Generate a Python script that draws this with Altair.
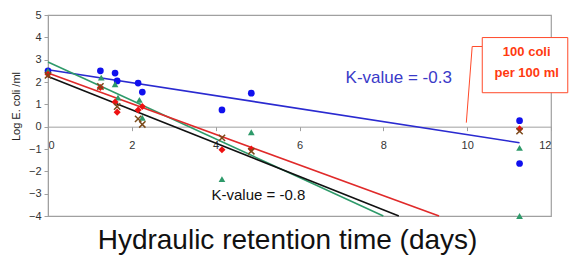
import altair as alt
import pandas as pd

# ---- data ----
blue_x = [0, 1.25, 1.6, 1.65, 2.15, 2.25, 4.15, 4.85, 11.25, 11.25]
blue_y = [2.5, 2.5, 2.4, 2.05, 1.95, 1.55, 0.75, 1.5, 0.27, -1.65]

red_x = [0, 1.25, 1.6, 1.65, 2.15, 2.25, 4.15, 4.85, 11.25]
red_y = [2.35, 1.75, 1.1, 0.65, 0.75, 0.9, -1.03, -1.0, -0.1]

green_x = [0, 1.27, 1.6, 1.67, 2.18, 2.25, 4.15, 4.85, 11.25, 11.25]
green_y = [2.5, 2.2, 1.9, 1.3, 1.2, 0.4, -2.35, -0.25, -0.95, -4.0]

cross_x = [0, 1.25, 1.65, 2.15, 2.25, 4.15, 4.85, 11.25]
cross_y = [2.3, 1.8, 0.9, 0.35, 0.1, -0.5, -1.1, -0.2]

# regression lines (start / end)
line_series = ["blue", "blue", "green", "green", "black", "black", "red", "red"]
line_x = [0, 11.25, 0, 8.0, 0, 8.37, 0, 9.33]
line_y = [2.55, -0.72, 2.9, -4.0, 2.25, -4.0, 2.4, -4.0]

x_ticks = [0, 2, 4, 6, 8, 10, 12]
y_ticks = [-4, -3, -2, -1, 0, 1, 2, 3, 4, 5]

FONT = "Liberation Sans"
GRAY = "#a0a0a0"

x_scale = alt.Scale(domain=[0, 12], nice=False, zero=False)
y_scale = alt.Scale(domain=[-4, 5], nice=False, zero=False)

x_axis = alt.Axis(values=x_ticks, title=None, grid=False, offset=-89.33,
                  domainColor=GRAY, tickColor=GRAY, tickSize=4,
                  labelFontSize=11, labelFont=FONT, labelColor="#333333",
                  labelPadding=9)
y_axis = alt.Axis(values=y_ticks, title="Log E. coli /ml", grid=False,
                  domainColor=GRAY, tickColor=GRAY, tickSize=4,
                  labelFontSize=11, labelFont=FONT, labelColor="#333333",
                  labelPadding=3, titleFont=FONT, titleFontSize=11,
                  titleFontWeight="normal", titleColor="#222222",
                  titlePadding=7, titleY=91)


def enc(field_x="x", field_y="y"):
    return dict(
        x=alt.X(f"{field_x}:Q", scale=x_scale, axis=x_axis),
        y=alt.Y(f"{field_y}:Q", scale=y_scale, axis=y_axis),
    )


df_lines = pd.DataFrame({"s": line_series, "x": line_x, "y": line_y})
lines = alt.Chart(df_lines).mark_line(strokeWidth=1.6).encode(
    **enc(),
    detail="s:N",
    color=alt.Color("s:N", scale=alt.Scale(
        domain=["blue", "green", "black", "red"],
        range=["#2a2ad0", "#2e9a6a", "#111111", "#e02a2a"]), legend=None),
)

blue = alt.Chart(pd.DataFrame({"x": blue_x, "y": blue_y})).mark_point(
    shape="circle", filled=True, size=45, color="#1010ee", opacity=1).encode(**enc())
green = alt.Chart(pd.DataFrame({"x": green_x, "y": green_y})).mark_point(
    shape="triangle-up", filled=True, size=45, color="#2e9a6a", opacity=1).encode(**enc())
red = alt.Chart(pd.DataFrame({"x": red_x, "y": red_y})).mark_point(
    shape="diamond", filled=True, size=50, color="#ee1111", opacity=1).encode(**enc())
cross = alt.Chart(pd.DataFrame({"x": cross_x, "y": cross_y})).mark_point(
    shape="M-1,-1L1,1M-1,1L1,-1", filled=False, size=40, color="#7a4a1a",
    strokeWidth=1.5, opacity=1).encode(**enc())

# annotations
ann_blue = alt.Chart(pd.DataFrame({"x": [7.1], "y": [2.2], "t": ["K-value = -0.3"]})).mark_text(
    align="left", baseline="middle", font=FONT, fontSize=17, color="#3a3ac8").encode(**enc(), text="t:N")
ann_black = alt.Chart(pd.DataFrame({"x": [3.9], "y": [-3.05], "t": ["K-value = -0.8"]})).mark_text(
    align="left", baseline="middle", font=FONT, fontSize=15, color="#111111").encode(**enc(), text="t:N")

connector = alt.Chart(pd.DataFrame({"x": [9.98, 10.12, 10.36], "y": [0.18, 3.59, 3.59], "o": [0, 1, 2]})).mark_line(
    color="#ff4a2a", strokeWidth=1).encode(**enc(), order="o:Q")

box = alt.Chart(pd.DataFrame({"x": [10.36], "x2": [12.4], "y": [3.99], "y2": [1.52]})).mark_rect(
    fill="white", stroke="#ff4a2a", strokeWidth=1).encode(**enc(), x2="x2:Q", y2="y2:Q")

box_text = alt.Chart(pd.DataFrame({"x": [11.42, 11.42], "y": [3.33, 2.41],
                                   "t": ["100 coli", "per 100 ml"]})).mark_text(
    align="center", baseline="middle", font=FONT, fontSize=13, fontWeight="bold",
    color="#ff3a10").encode(**enc(), text="t:N")

chart = alt.layer(lines, connector, blue, green, red, cross, ann_blue, ann_black,
                  box, box_text).properties(
    width=503, height=201,
    title=alt.TitleParams("Hydraulic retention time (days)", orient="bottom",
                          fontSize=28, font=FONT, fontWeight="normal",
                          color="#111111", offset=6, dx=-12),
    autosize=alt.AutoSizeParams(type="none"),
    padding={"left": 40, "top": 7, "right": 18, "bottom": 43},
).configure_view(stroke=GRAY, strokeWidth=1.2)

chart.save("out.html", embed_options={"renderer": "svg", "actions": False})
